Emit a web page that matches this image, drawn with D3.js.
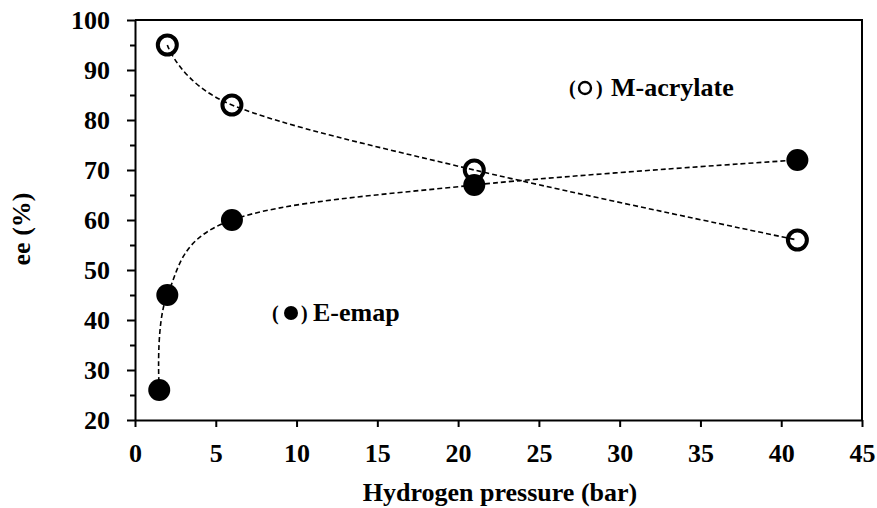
<!DOCTYPE html>
<html>
<head>
<meta charset="utf-8">
<script src="https://cdn.jsdelivr.net/npm/d3@7"></script>
<style>
  html, body { margin: 0; padding: 0; background: #fff; }
  svg { display: block; }
  text { font-family: "Liberation Serif", "Times New Roman", serif; font-weight: bold; fill: #000; }
</style>
</head>
<body>
<svg id="chart" width="877" height="508"></svg>
<script>
// ---- Data ----
const eEmapPressure = [1.5, 2, 6, 21, 41];
const eEmapEE = [26, 45, 60, 67, 72];
const mAcrylatePressure = [2, 6, 21, 41];
const mAcrylateEE = [95, 83, 70, 56];
const xTicks = [0, 5, 10, 15, 20, 25, 30, 35, 40, 45];
const yTicks = [20, 30, 40, 50, 60, 70, 80, 90, 100];
const yMinorTicks = [25, 35, 45, 55, 65, 75, 85, 95];
const xTitle = "Hydrogen pressure (bar)";
const yTitle = "ee (%)";
const legendM = "M-acrylate";
const legendE = "E-emap";

// ---- Layout ----
const svg = d3.select("#chart");
const L = 135, R = 862, T = 20, B = 420;
const x = d3.scaleLinear().domain([0, 45]).range([L, R]);
const y = d3.scaleLinear().domain([20, 100]).range([B, T]);

// box (top and right)
svg.append("path")
  .attr("d", `M${L},${T}H${R}V${B}`)
  .attr("fill", "none").attr("stroke", "#000").attr("stroke-width", 2);

// x axis
svg.append("g").attr("transform", `translate(0,${B})`)
  .call(d3.axisBottom(x).tickValues(xTicks).tickSize(7).tickPadding(17).tickSizeOuter(0));
// y axis minor
svg.append("g").attr("transform", `translate(${L},0)`)
  .call(d3.axisLeft(y).tickValues(yMinorTicks).tickSize(5).tickFormat("").tickSizeOuter(0))
  .call(g => g.select(".domain").remove());
// y axis major
svg.append("g").attr("transform", `translate(${L},0)`)
  .call(d3.axisLeft(y).tickValues(yTicks).tickSize(8).tickPadding(17).tickSizeOuter(0));

svg.selectAll(".domain").attr("stroke-width", 2);
svg.selectAll(".tick line").attr("stroke-width", 2);
svg.selectAll(".tick text")
  .attr("font-size", null).attr("font-family", null)
  .style("font-size", "26px")
  .style("font-family", '"Liberation Serif", "Times New Roman", serif')
  .style("font-weight", "bold");

// titles
svg.append("text").attr("x", 500).attr("y", 501).attr("text-anchor", "middle")
  .style("font-size", "26px").text(xTitle);
svg.append("text").attr("transform", "translate(30,229) rotate(-90)").attr("text-anchor", "middle")
  .style("font-size", "26px").text(yTitle);

// lines
const line = d3.line().x(d => x(d[0])).y(d => y(d[1])).curve(d3.curveCardinal.tension(0));
const eData = eEmapPressure.map((p, i) => [p, eEmapEE[i]]);
const mData = mAcrylatePressure.map((p, i) => [p, mAcrylateEE[i]]);

svg.append("path").datum(eData).attr("d", line)
  .attr("fill", "none").attr("stroke", "#000").attr("stroke-width", 1.6).attr("stroke-dasharray", "5,3");

// filled markers
svg.selectAll(".ept").data(eData).enter().append("circle")
  .attr("cx", d => x(d[0])).attr("cy", d => y(d[1])).attr("r", 11).attr("fill", "#000");

// open markers
svg.selectAll(".mpt").data(mData).enter().append("circle")
  .attr("cx", d => x(d[0])).attr("cy", d => y(d[1])).attr("r", 9.5)
  .attr("fill", "none").attr("stroke", "#000").attr("stroke-width", 4);

svg.append("path").datum(mData).attr("d", line)
  .attr("fill", "none").attr("stroke", "#000").attr("stroke-width", 1.6).attr("stroke-dasharray", "5,3");

// legends
// M-acrylate
svg.append("text").attr("x", 569).attr("y", 95).style("font-size", "20px").text("(");
svg.append("circle").attr("cx", 585).attr("cy", 88).attr("r", 6).attr("fill", "none").attr("stroke", "#000").attr("stroke-width", 2.4);
svg.append("text").attr("x", 596).attr("y", 95).style("font-size", "20px").text(")");
svg.append("text").attr("x", 611).attr("y", 96).style("font-size", "26px").text(legendM);
// E-emap
svg.append("text").attr("x", 272).attr("y", 320).style("font-size", "20px").text("(");
svg.append("circle").attr("cx", 291).attr("cy", 313).attr("r", 7).attr("fill", "#000");
svg.append("text").attr("x", 301).attr("y", 320).style("font-size", "20px").text(")");
svg.append("text").attr("x", 313).attr("y", 321).style("font-size", "26px").text(legendE);
</script>
</body>
</html>
